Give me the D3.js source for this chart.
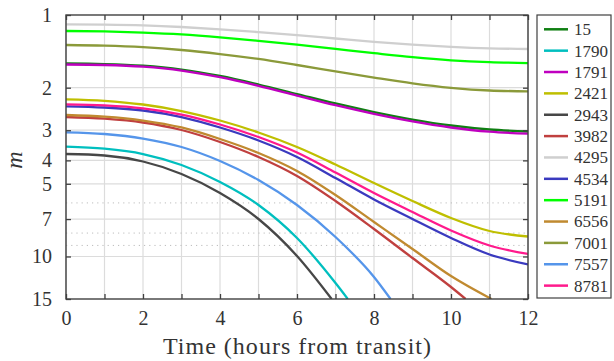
<!DOCTYPE html>
<html>
<head>
<meta charset="utf-8">
<script src="https://cdn.jsdelivr.net/npm/d3@7"></script>
<style>
body { margin: 0; background: #fff; }
svg { display: block; }
text { font-family: "Liberation Serif", "DejaVu Serif", serif; fill: #333; }
</style>
</head>
<body>
<svg width="614" height="361"></svg>
<script>
// hours from transit
var hours = [0, 1, 2, 3, 4, 5, 6, 7, 8, 9, 10, 11, 12];

// magnitude m for each object, one value per hour (null = below the chart)
var m15   = [1.588, 1.596, 1.622, 1.682, 1.789, 1.940, 2.124, 2.325, 2.522, 2.709, 2.868, 2.980, 3.037];
var m1790 = [3.511, 3.578, 3.764, 4.180, 4.916, 6.121, 8.384, 12.88, null, null, null, null, null];
var m1791 = [1.603, 1.611, 1.637, 1.698, 1.810, 1.964, 2.155, 2.363, 2.565, 2.758, 2.923, 3.043, 3.102];
var m2421 = [2.234, 2.266, 2.348, 2.498, 2.735, 3.066, 3.521, 4.160, 4.963, 5.892, 6.928, 7.843, 8.265];
var m2943 = [3.764, 3.818, 4.043, 4.554, 5.459, 6.995, 9.954, null, null, null, null, null, null];
var m3982 = [2.645, 2.688, 2.787, 2.994, 3.357, 3.873, 4.642, 5.892, 7.695, 10.15, 13.38, null, null];
var m4295 = [1.093, 1.096, 1.104, 1.121, 1.146, 1.177, 1.212, 1.251, 1.291, 1.326, 1.354, 1.374, 1.383];
var m4534 = [2.388, 2.416, 2.486, 2.645, 2.923, 3.309, 3.873, 4.732, 5.808, 6.995, 8.384, 9.813, 10.79];
var m5191 = [1.165, 1.170, 1.183, 1.204, 1.237, 1.279, 1.327, 1.382, 1.439, 1.495, 1.540, 1.568, 1.581];
var m6556 = [2.595, 2.637, 2.735, 2.923, 3.262, 3.728, 4.426, 5.564, 7.198, 9.312, 12.05, null, null];
var m7001 = [1.331, 1.339, 1.359, 1.396, 1.451, 1.521, 1.611, 1.711, 1.815, 1.918, 2.002, 2.054, 2.070];
var m7557 = [3.060, 3.110, 3.247, 3.521, 4.024, 4.823, 6.121, 8.305, 12.16, null, null, null, null];
var m8781 = [2.343, 2.366, 2.434, 2.583, 2.841, 3.201, 3.710, 4.490, 5.459, 6.543, 7.806, 9.006, 9.766];

// hour at which a curve leaves through the bottom (m = 15)
var exitHour = { "1790": 7.32, "2943": 6.9, "3982": 10.38, "6556": 11.05, "7557": 8.43 };

var names  = ["15", "1790", "1791", "2421", "2943", "3982", "4295", "4534", "5191", "6556", "7001", "7557", "8781"];
var values = [m15, m1790, m1791, m2421, m2943, m3982, m4295, m4534, m5191, m6556, m7001, m7557, m8781];
var colors = ["#0f7f12", "#00bfbf", "#bf00bf", "#bfbf00", "#474747", "#c0403f", "#cfcfcf",
              "#3a3abf", "#00ff00", "#c08a30", "#8b9a3a", "#5595ea", "#ff1a8c"];

var yTicks = [1, 2, 3, 4, 5, 7, 10, 15];
var yMinor = [6, 8, 9];

var pL = 66, pR = 528, pT = 15, pB = 299;
var svg = d3.select("svg");

var x = d3.scaleLinear().domain([0, 12]).range([pL, pR]);
var y = d3.scaleLog().domain([1, 15]).range([pT, pB]);

// grid
var grid = svg.append("g");
grid.selectAll("line.v").data(hours).enter().append("line")
	.attr("x1", function(d){ return x(d); }).attr("x2", function(d){ return x(d); })
	.attr("y1", pT).attr("y2", pB)
	.attr("stroke", "#dcdcdc").attr("stroke-width", 1.2);
grid.selectAll("line.h").data(yTicks.slice(1, -1)).enter().append("line")
	.attr("x1", pL).attr("x2", pR)
	.attr("y1", function(d){ return y(d); }).attr("y2", function(d){ return y(d); })
	.attr("stroke", "#dcdcdc").attr("stroke-width", 1.2);
grid.selectAll("line.m").data(yMinor).enter().append("line")
	.attr("x1", pL).attr("x2", pR)
	.attr("y1", function(d){ return y(d); }).attr("y2", function(d){ return y(d); })
	.attr("stroke", "#bdbdbd").attr("stroke-width", 1).attr("stroke-dasharray", "1.2,4");

// curves
svg.append("clipPath").attr("id", "clip").append("rect")
	.attr("x", pL).attr("y", pT).attr("width", pR - pL).attr("height", pB - pT);

var line = d3.line()
	.x(function(d){ return x(d[0]); })
	.y(function(d){ return y(d[1]); })
	.curve(d3.curveMonotoneX);

var curves = svg.append("g").attr("clip-path", "url(#clip)");
for(var i = 0; i < names.length; i++){
	var pts = [];
	for(var j = 0; j < hours.length; j++){
		if(values[i][j] != null) pts.push([hours[j], values[i][j]]);
	}
	if(exitHour[names[i]]) pts.push([exitHour[names[i]], 15]);
	curves.append("path")
		.attr("d", line(pts))
		.attr("fill", "none")
		.attr("stroke", colors[i])
		.attr("stroke-width", 2.3);
}

// axes
var axisColor = "#404040";
var xb = svg.append("g").attr("transform", "translate(0," + pB + ")")
	.call(d3.axisBottom(x).tickValues(hours).tickSizeInner(-5).tickSizeOuter(0).tickPadding(12)
		.tickFormat(function(d){ return d % 2 == 0 ? d : ""; }));
var xt = svg.append("g").attr("transform", "translate(0," + pT + ")")
	.call(d3.axisTop(x).tickValues(hours).tickSizeInner(-5).tickSizeOuter(0).tickFormat(""));
var yl = svg.append("g").attr("transform", "translate(" + pL + ",0)")
	.call(d3.axisLeft(y).tickValues(yTicks).tickSizeInner(-5).tickSizeOuter(0).tickPadding(14)
		.tickFormat(function(d){ return d; }));
var yr = svg.append("g").attr("transform", "translate(" + pR + ",0)")
	.call(d3.axisRight(y).tickValues(yTicks).tickSizeInner(-5).tickSizeOuter(0).tickFormat(""));

[xb, xt, yl, yr].forEach(function(a){
	a.select(".domain").remove();
	a.selectAll(".tick line").attr("stroke", axisColor).attr("stroke-width", 1.3);
	a.selectAll(".tick text").style("font-size", "20px").style("fill", "#333")
		.style("font-family", "'Liberation Serif', serif");
});

svg.append("rect")
	.attr("x", pL).attr("y", pT).attr("width", pR - pL).attr("height", pB - pT)
	.attr("fill", "none").attr("stroke", axisColor).attr("stroke-width", 1.4);

// axis titles
svg.append("text")
	.attr("x", (pL + pR) / 2).attr("y", 354)
	.attr("text-anchor", "middle")
	.attr("textLength", 268).attr("lengthAdjust", "spacing")
	.style("font-size", "24px")
	.text("Time (hours from transit)");

svg.append("text")
	.attr("transform", "translate(22," + 160 + ") rotate(-90)")
	.attr("text-anchor", "middle")
	.style("font-size", "24px").style("font-style", "italic")
	.text("m");

// legend
var lg = svg.append("g");
lg.append("rect")
	.attr("x", 537).attr("y", pT).attr("width", 74).attr("height", 283)
	.attr("fill", "#fff").attr("stroke", axisColor).attr("stroke-width", 1.2);
var rowH = 21.36;
for(var k = 0; k < names.length; k++){
	var ry = 29.3 + k * rowH;
	lg.append("line")
		.attr("x1", 544).attr("x2", 568).attr("y1", ry).attr("y2", ry)
		.attr("stroke", colors[k]).attr("stroke-width", 2.5);
	lg.append("text")
		.attr("x", 574).attr("y", ry).attr("dy", "0.35em")
		.style("font-size", "17px")
		.text(names[k]);
}
</script>
</body>
</html>
